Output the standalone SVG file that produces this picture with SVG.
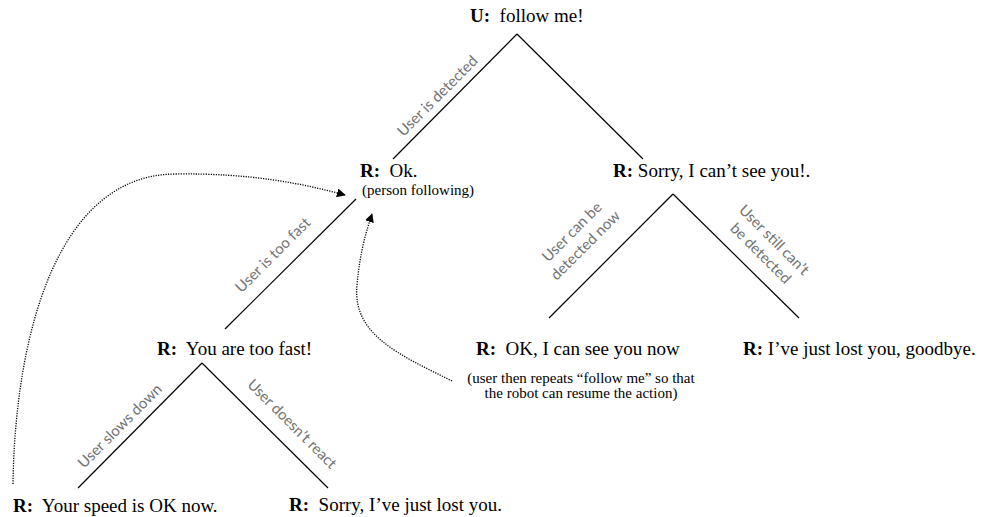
<svg xmlns="http://www.w3.org/2000/svg" width="995" height="517" viewBox="0 0 995 517">
  <style>
    .utt { font-family: "Liberation Serif", "Times New Roman", serif; font-size: 19px; fill: #000; }
    .utt .who { font-weight: bold; }
    .note { font-family: "Liberation Serif", "Times New Roman", serif; font-size: 15px; fill: #000; }
    .cond { font-family: Lato, "Open Sans", sans-serif; font-size: 15px; fill: #737373; text-anchor: middle; }
    .branch { stroke: #000; stroke-width: 1.2; fill: none; }
    .jump { stroke: #000; stroke-width: 1.3; stroke-dasharray: 1.2 1.3; fill: none; marker-end: url(#tip); }
  </style>
  <defs>
    <marker id="tip" viewBox="0 0 10 10" refX="9" refY="5" markerWidth="9" markerHeight="9" markerUnits="userSpaceOnUse" orient="auto">
      <path d="M0,0 L10,5 L0,10 z" fill="#000"/>
    </marker>
  </defs>

  <rect width="995" height="517" fill="#fff"/>

  <!-- branches and back-jumps -->
  <g id="connectors">
    <line class="branch" x1="517" y1="34" x2="393" y2="159"/>
    <line class="branch" x1="517" y1="34" x2="643" y2="159"/>
    <line class="branch" x1="356" y1="199" x2="225" y2="329"/>
    <line class="branch" x1="673" y1="194" x2="549" y2="318"/>
    <line class="branch" x1="673" y1="194" x2="799" y2="318"/>
    <line class="branch" x1="202" y1="363" x2="78" y2="488"/>
    <line class="branch" x1="202" y1="363" x2="328" y2="488"/>

    <path class="jump" d="M13,484 C15,340 55,175 175,174 C250,173 300,183 345,195"/>
    <path class="jump" d="M452,381 C400,355 352,335 357,285 C360,252 366,232 372,214"/>

    <g class="cond">
      <text transform="translate(437.5,96) rotate(-45)" y="5">User is detected</text>
      <text transform="translate(273,255) rotate(-45)" y="5">User is too fast</text>
      <text transform="translate(120,426) rotate(-45)" y="5">User slows down</text>
      <text transform="translate(292,424) rotate(45)" y="5">User doesn’t react</text>
      <text transform="translate(579,239) rotate(-45)" y="5"><tspan x="0" y="-5">User can be</tspan><tspan x="0" y="14">detected now</tspan></text>
      <text transform="translate(767,247) rotate(45)" y="5"><tspan x="0" y="-5">User still can’t</tspan><tspan x="0" y="14">be detected</tspan></text>
    </g>
  </g>

  <g id="follow-me">
    <text class="utt" x="470" y="22" xml:space="preserve"><tspan class="who">U:</tspan>  follow me!</text>
  </g>

  <g id="ok-following">
    <text class="utt" x="360" y="177" xml:space="preserve"><tspan class="who">R:</tspan>  Ok.</text>
    <text class="note" x="362" y="195">(person following)</text>
  </g>

  <g id="cant-see">
    <text class="utt" x="613" y="177" xml:space="preserve"><tspan class="who">R:</tspan> Sorry, I can’t see you!.</text>
  </g>

  <g id="too-fast">
    <text class="utt" x="157" y="355" xml:space="preserve"><tspan class="who">R:</tspan>  You are too fast!</text>
  </g>

  <g id="see-you-now">
    <text class="utt" x="476" y="355" xml:space="preserve"><tspan class="who">R:</tspan>  OK, I can see you now</text>
    <text class="note" text-anchor="middle"><tspan x="581" y="383">(user then repeats “follow me” so that</tspan><tspan x="581" y="398">the robot can resume the action)</tspan></text>
  </g>

  <g id="goodbye">
    <text class="utt" x="743" y="355" xml:space="preserve"><tspan class="who">R:</tspan> I’ve just lost you, goodbye.</text>
  </g>

  <g id="speed-ok">
    <text class="utt" x="13" y="512" xml:space="preserve"><tspan class="who">R:</tspan>  Your speed is OK now.</text>
  </g>

  <g id="lost-you">
    <text class="utt" x="289" y="511" xml:space="preserve"><tspan class="who">R:</tspan>  Sorry, I’ve just lost you.</text>
  </g>
</svg>
